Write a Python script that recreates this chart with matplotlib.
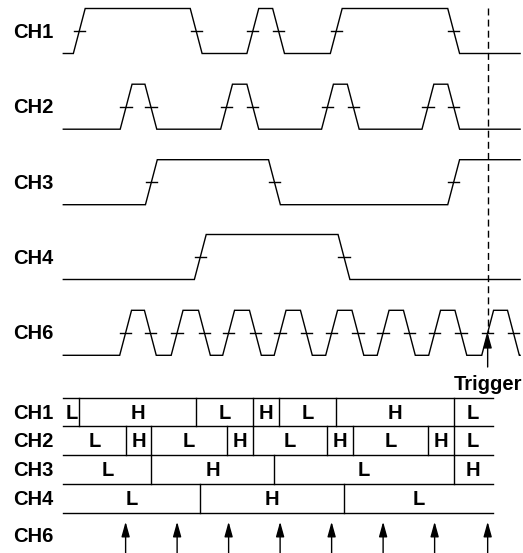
import matplotlib
matplotlib.use("Agg")
import matplotlib.pyplot as plt

plt.rcParams["font.family"] = ["Liberation Sans", "DejaVu Sans"]

# Edge times (mid-level crossings), in clock units (CH6 period = 10)
channels = ["CH1", "CH2", "CH3", "CH4", "CH6"]
start_levels = [0, 0, 0, 0, 0]
edges = {
    "CH1": [3.1, 25.8, 36.8, 41.8, 53.0, 75.8],
    "CH2": [12.2, 17.0, 31.7, 36.8, 51.3, 56.3, 70.8, 75.8],
    "CH3": [17.1, 41.0, 75.8],
    "CH4": [26.6, 54.5],
    "CH6": [12.1, 16.9, 22.1, 27.4, 32.1, 37.3, 42.1, 47.2,
            52.1, 57.2, 62.1, 67.2, 72.1, 77.2, 82.4, 87.4],
}
trace_end = 88.7
trigger_time = 82.4
table_end = 83.4
state_letters = ["L", "H"]

# layout (pixels of the 523x553 canvas)
PX_PER_UNIT = 5.15
X0 = 63.3
RAMP = 1.15
TICK = 1.1
lane_mid = [31.0, 106.7, 182.2, 257.0, 332.8]
half_amp = 22.5
row_top = 397.7
row_h = 28.75

fig = plt.figure(figsize=(5.23, 5.53), dpi=100)
ax = fig.add_axes([0, 0, 1, 1])
ax.set_xlim(-X0 / PX_PER_UNIT, (523 - X0) / PX_PER_UNIT)
ax.set_ylim(553, 0)
ax.axis("off")

LW = 1.0
font = dict(fontsize=14.5, fontweight="bold")
label_x = (13 - X0) / PX_PER_UNIT

# --- waveforms -----------------------------------------------------------
for i, ch in enumerate(channels):
    mid = lane_mid[i]
    y = lambda lvl: mid + half_amp if lvl == 0 else mid - half_amp
    lvl = start_levels[i]
    xs, ys = [0], [y(lvl)]
    for e in edges[ch]:
        xs += [e - RAMP, e + RAMP]
        ys += [y(lvl), y(1 - lvl)]
        lvl = 1 - lvl
        ax.plot([e - TICK, e + TICK], [mid, mid], color="k", lw=LW)
    xs.append(trace_end)
    ys.append(y(lvl))
    ax.plot(xs, ys, color="k", lw=LW, solid_joinstyle="miter")
    ax.text(label_x, mid + 1, ch, ha="left", va="center", **font)

# trigger marker
ax.plot([trigger_time, trigger_time], [8, lane_mid[-1]], color="k", lw=LW,
        linestyle=(0, (5, 3)))
ax.annotate("", xy=(trigger_time, lane_mid[-1]), xytext=(trigger_time, 367),
            arrowprops=dict(arrowstyle="-|>,head_length=0.9,head_width=0.25",
                            color="k", lw=LW, shrinkA=0, shrinkB=0))
ax.text(trigger_time, 385, "Trigger", ha="center", va="center", **font)

# --- state table ---------------------------------------------------------
for r in range(5):
    yl = row_top + r * row_h
    ax.plot([0, table_end], [yl, yl], color="k", lw=LW)

for i, ch in enumerate(channels[:4]):
    top = row_top + i * row_h
    bounds = [e for e in edges[ch] if e < table_end]
    cuts = [0] + bounds + [table_end]
    lvl = start_levels[i]
    for a, b in zip(cuts[:-1], cuts[1:]):
        ax.text((a + b) / 2, top + row_h / 2 + 1, state_letters[lvl],
                ha="center", va="center", **font)
        lvl = 1 - lvl
    for e in bounds:
        ax.plot([e, e], [top, top + row_h], color="k", lw=LW)
    ax.text(label_x, top + row_h / 2 + 1, ch, ha="left", va="center", **font)

ch6_rises = edges["CH6"][0::2]
for e in ch6_rises:
    if e <= table_end:
        ax.annotate("", xy=(e, 521.7), xytext=(e, 556),
                    arrowprops=dict(arrowstyle="-|>,head_length=0.9,head_width=0.25",
                                    color="k", lw=LW, shrinkA=0, shrinkB=0))
ax.text(label_x, 537, "CH6", ha="left", va="center", **font)

fig.savefig("out.png", dpi=100)
